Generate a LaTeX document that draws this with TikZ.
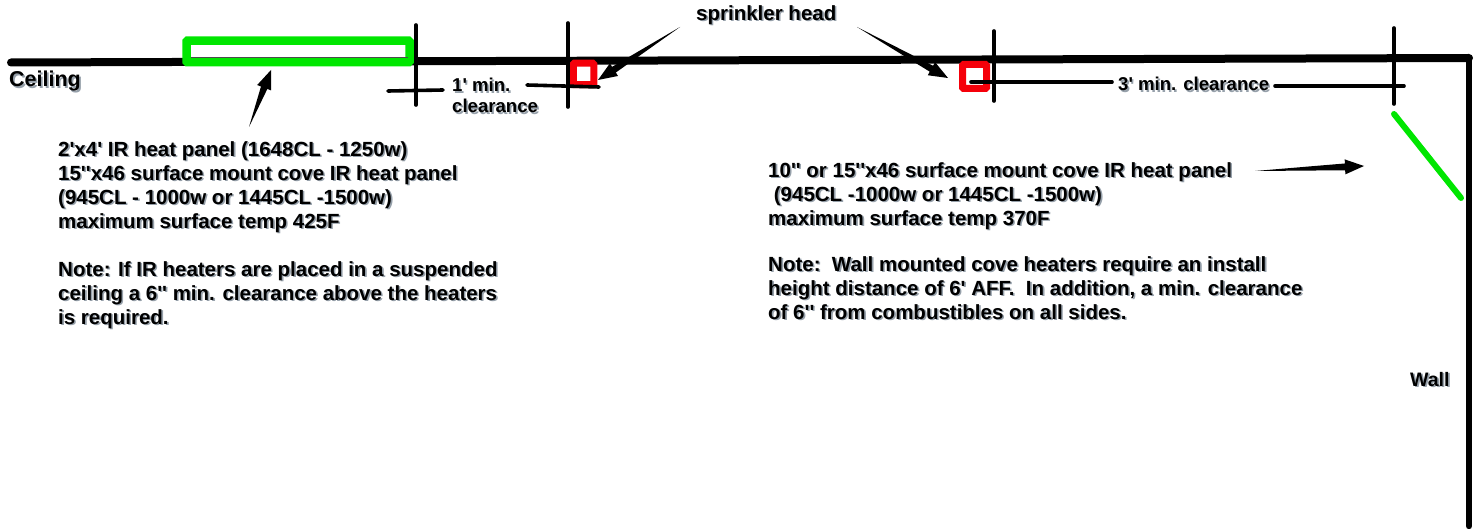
\documentclass[tikz,border=0pt]{standalone}
\usepackage{fontspec}
\newfontfamily\lab{Liberation Sans}
\usetikzlibrary{calc}
\definecolor{panelgreen}{RGB}{0,230,0}
\definecolor{sprinkred}{RGB}{245,0,10}
\definecolor{shadowgrey}{RGB}{150,160,170}
\newcommand{\sh}[1]{\leavevmode\rlap{\kern1.6pt\raisebox{-1.6pt}{\textcolor{shadowgrey}{#1}}}#1}
\newcommand{\wedgearrow}[2]{%
  \fill[black] (#1)
    -- ($($(#2)!19pt!(#1)$)!3.4pt!90:(#2)$)
    -- ($($(#2)!19pt!(#1)$)!7.5pt!90:(#2)$)
    -- (#2)
    -- ($($(#2)!19pt!(#1)$)!7.5pt!-90:(#2)$)
    -- ($($(#2)!19pt!(#1)$)!3.4pt!-90:(#2)$)
    -- cycle;}
\tikzset{
  x=1pt,y=-1pt,
  ceilingline/.style={line width=8pt,black,line cap=round,line join=round},
  wallline/.style={line width=6.5pt,black,line cap=round},
  tick/.style={line width=3.6pt,black,line cap=round},
  panelbox/.style={draw=panelgreen,line width=8.5pt,fill=white,rounded corners=1pt,outer sep=0pt,inner sep=0pt},
  sprinkler/.style={draw=sprinkred,line width=7pt,fill=white,rounded corners=1pt,outer sep=0pt,inner sep=0pt},
  coveheater/.style={line width=6pt,panelgreen,line cap=round},
  lbl/.style={inner sep=0pt,anchor=north west,align=left,text=black,font=\lab\bfseries\fontsize{20.5}{24}\selectfont},
  smalllbl/.style={lbl,font=\lab\bfseries\fontsize{18.6}{21}\selectfont},
}
\begin{document}
\begin{tikzpicture}
\useasboundingbox (0,0) rectangle (1478,529);
% named end points
\coordinate (ceilL) at (11,62.5);
\coordinate (ceilR) at (1469,58);
\coordinate (wallB) at (1469,526);
\coordinate (t1a) at (416,25); \coordinate (t1b) at (416,105);
\coordinate (t2a) at (568,23); \coordinate (t2b) at (568,107);
\coordinate (t3a) at (994,31); \coordinate (t3b) at (994,101);
\coordinate (t4a) at (1394,28); \coordinate (t4b) at (1394,104);
\coordinate (d1a) at (388,91); \coordinate (d1b) at (443,90);
\coordinate (d2a) at (527,85); \coordinate (d2b) at (599,87);
\coordinate (d3a) at (971,82); \coordinate (d3b) at (1112,82);
\coordinate (d4a) at (1275,86); \coordinate (d4b) at (1404,86);
\coordinate (heatA) at (1394,114); \coordinate (heatB) at (1461,198);
\coordinate (a1t) at (249,127); \coordinate (a1h) at (271,70);
\coordinate (a2t) at (680,27); \coordinate (a2h) at (598,80);
\coordinate (a3t) at (857,27); \coordinate (a3h) at (948,78);
\coordinate (a4t) at (1255,171); \coordinate (a4h) at (1364,166);
\coordinate (seamL) at (191,58); \coordinate (seamR) at (408,58);
% structure
\draw[ceilingline] (ceilL) -- (ceilR);
\draw[wallline] (ceilR) -- (wallB);
\node[panelbox,minimum width=223pt,minimum height=21.5pt] (panel) at (298,51.5) {};
\draw[line width=1pt,black!70] (seamL) -- (seamR);
\node[sprinkler,minimum width=20.5pt,minimum height=21.5pt] (spr1) at (583.5,74) {};
\node[sprinkler,minimum width=24pt,minimum height=24pt] (spr2) at (974.5,76.5) {};
\draw[coveheater] (heatA) -- (heatB);
% dimension ticks
\draw[tick] (t1a) -- (t1b);
\draw[tick] (t2a) -- (t2b);
\draw[tick] (t3a) -- (t3b);
\draw[tick] (t4a) -- (t4b);
\draw[tick] (d1a) -- (d1b);
\draw[tick] (d2a) -- (d2b);
\draw[tick] (d3a) -- (d3b);
\draw[tick] (d4a) -- (d4b);
% pointers
\wedgearrow{a1t}{a1h}
\wedgearrow{a2t}{a2h}
\wedgearrow{a3t}{a3h}
\wedgearrow{a4t}{a4h}
% labels
\node[lbl] (ceiling) at (9,71) {\sh{\fontsize{21.5}{24}\selectfont Ceiling}};
\node[lbl] (wall) at (1410,372) {\sh{\fontsize{19.5}{21}\selectfont Wall}};
\node[lbl] (head) at (696,5) {\sh{sprinkler head}};
\node[smalllbl] (oneft) at (452,78) {\sh{1' min.}\\\sh{clearance}};
\node[smalllbl] (threeft) at (1118,77) {\sh{3' min. clearance}};
\node[lbl] (left1) at (58,141) {\sh{2'x4' IR heat panel (1648CL - 1250w)}\\
\sh{15''x46 surface mount cove IR heat panel}\\
\sh{(945CL - 1000w or 1445CL -1500w)}\\
\sh{maximum surface temp 425F}\\[24pt]
\sh{Note: If IR heaters are placed in a suspended}\\
\sh{ceiling a 6'' min. clearance above the heaters}\\
\sh{is required.}};
\node[lbl] (right1) at (768,162) {\sh{10'' or 15''x46 surface mount cove IR heat panel}\\
\sh{\ (945CL -1000w or 1445CL -1500w)}\\
\sh{maximum surface temp 370F}\\[22pt]
\sh{Note:\ \ Wall mounted cove heaters require an install}\\
\sh{height distance of 6' AFF.\ \ In addition, a min. clearance}\\
\sh{of 6'' from combustibles on all sides.}};
\end{tikzpicture}
\end{document}
